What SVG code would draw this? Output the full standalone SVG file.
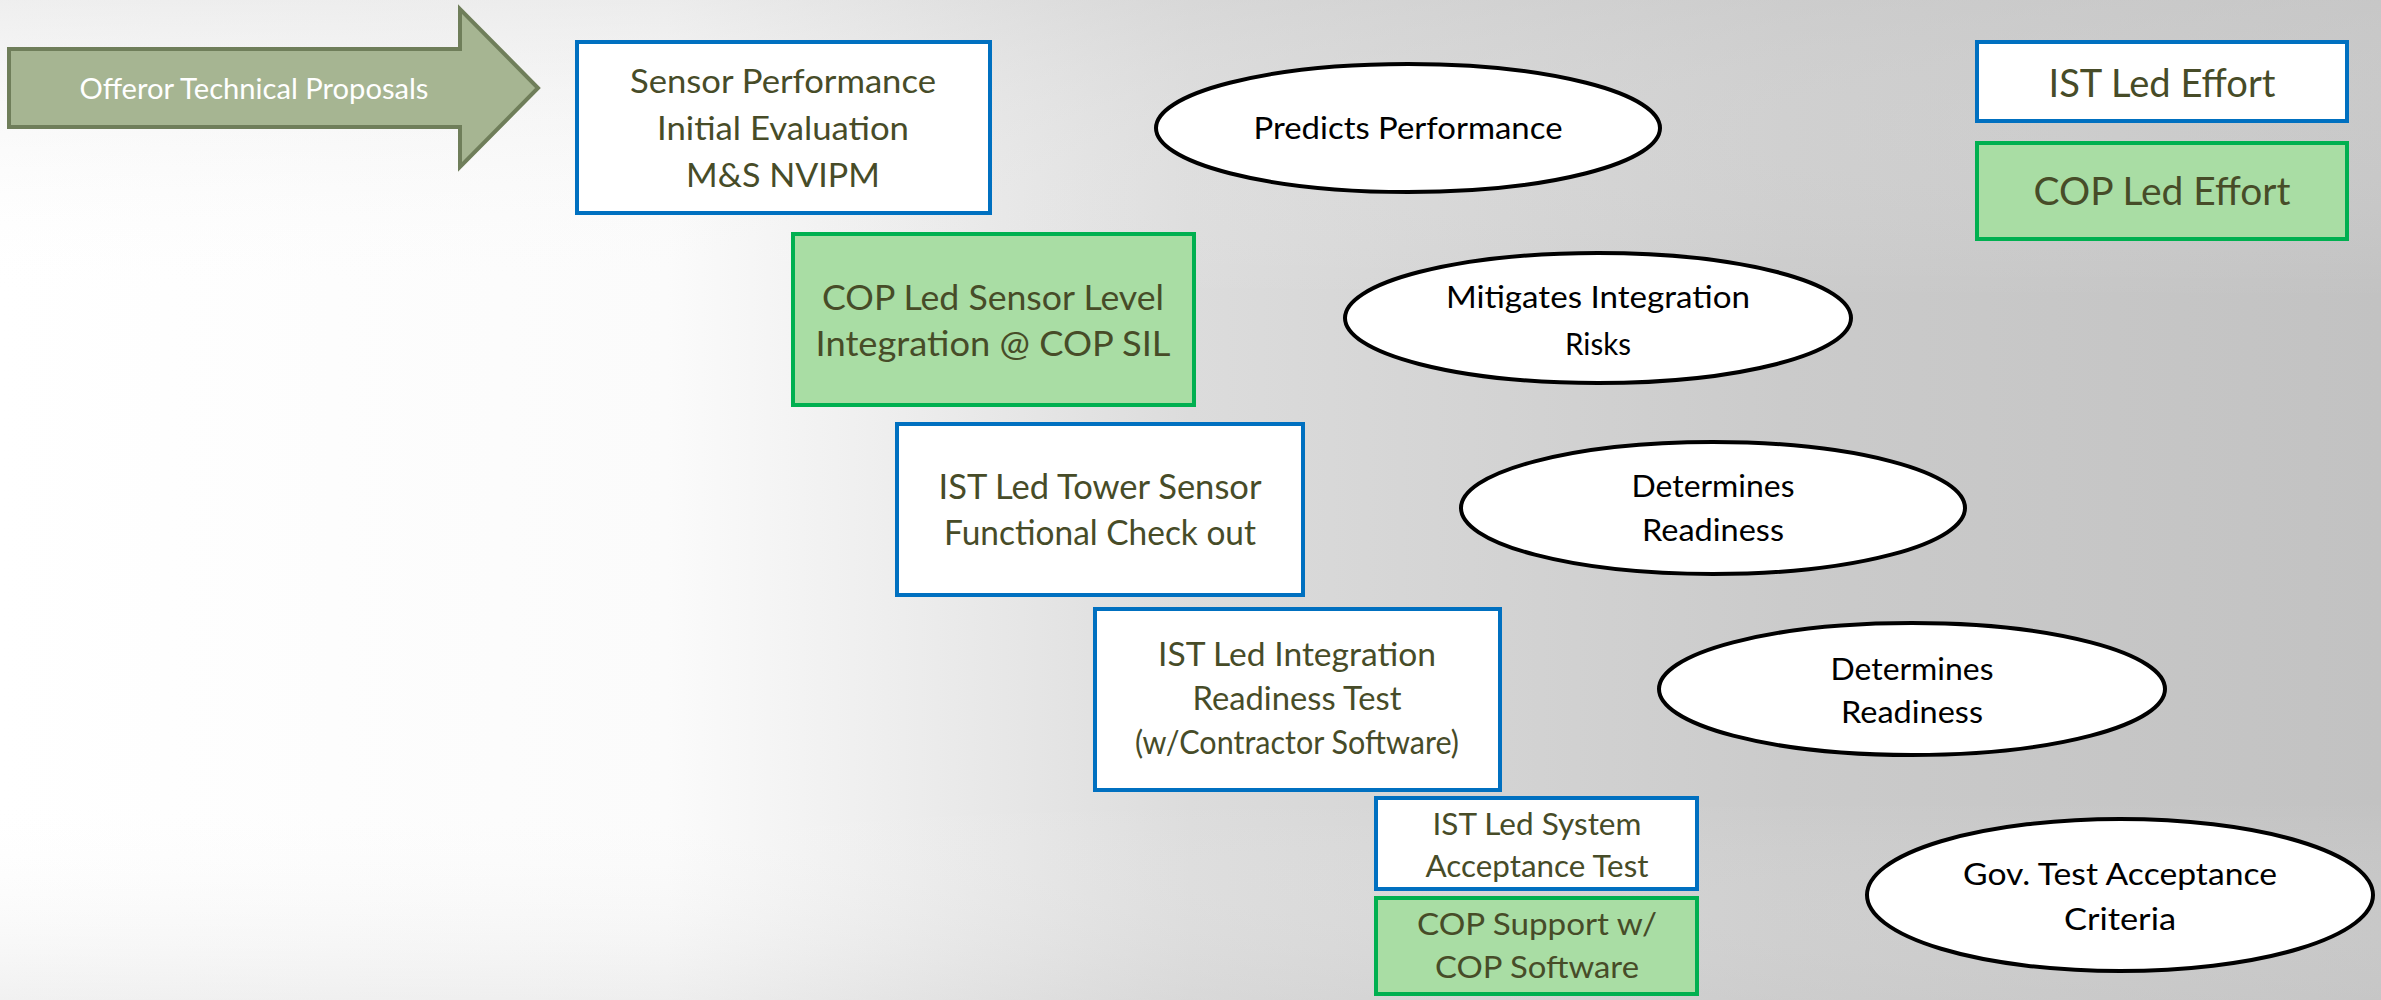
<svg xmlns="http://www.w3.org/2000/svg" width="2381" height="1000" viewBox="0 0 2381 1000">
  <defs>
    <linearGradient id="bg" x1="0" y1="0" x2="1" y2="0">
      <stop offset="0" stop-color="#ffffff"/>
      <stop offset="0.28" stop-color="#fbfbfb"/>
      <stop offset="0.5" stop-color="#dcdcdc"/>
      <stop offset="0.75" stop-color="#cbcbcb"/>
      <stop offset="1" stop-color="#c2c2c2"/>
    </linearGradient>
    <linearGradient id="bgv" x1="0" y1="0" x2="0" y2="1">
      <stop offset="0" stop-color="#d0d0d0" stop-opacity="0.35"/>
      <stop offset="0.3" stop-color="#ffffff" stop-opacity="0"/>
      <stop offset="0.8" stop-color="#ffffff" stop-opacity="0"/>
      <stop offset="1" stop-color="#d0d0d0" stop-opacity="0.3"/>
    </linearGradient>
    <style>
      .ist { fill: #ffffff; stroke: #0070c0; stroke-width: 4; }
      .cop { fill: #a9dda4; stroke: #00b050; stroke-width: 4; }
      .ell { fill: #ffffff; stroke: #000000; stroke-width: 4; }
      .t { font-family: Lato, "Liberation Sans", sans-serif; fill: #474c28; text-anchor: middle; }
      .e { font-family: Lato, "Liberation Sans", sans-serif; fill: #000000; text-anchor: middle; font-size: 30px; }
    </style>
  </defs>
  <rect x="0" y="0" width="2381" height="1000" fill="url(#bg)"/>
  <rect x="0" y="0" width="2381" height="1000" fill="url(#bgv)"/>

  <g id="connectors"></g>

  <g id="offeror">
    <polygon points="9,49 460,49 460,9 538,88 460,167 460,127 9,127" fill="#a6b592" stroke="#6f7e5a" stroke-width="4"/>
    <text x="254" y="99" font-size="29" font-family="Lato, 'Liberation Sans', sans-serif" fill="#ffffff" text-anchor="middle" textLength="349" lengthAdjust="spacingAndGlyphs">Offeror Technical Proposals</text>
  </g>

  <g id="box-sensor-performance">
    <rect class="ist" x="577" y="42" width="413" height="171"/>
    <text class="t" font-size="32" x="783" y="93" textLength="306" lengthAdjust="spacingAndGlyphs">Sensor Performance</text>
    <text class="t" font-size="32" x="783" y="140" textLength="252" lengthAdjust="spacingAndGlyphs">Initial Evaluation</text>
    <text class="t" font-size="32" x="783" y="187" textLength="194" lengthAdjust="spacingAndGlyphs">M&amp;S NVIPM</text>
  </g>

  <g id="box-cop-sensor-level">
    <rect class="cop" x="793" y="234" width="401" height="171"/>
    <text class="t" font-size="34" x="993" y="310" textLength="342" lengthAdjust="spacingAndGlyphs">COP Led Sensor Level</text>
    <text class="t" font-size="34" x="993" y="356" textLength="355" lengthAdjust="spacingAndGlyphs">Integration @ COP SIL</text>
  </g>

  <g id="box-tower-sensor">
    <rect class="ist" x="897" y="424" width="406" height="171"/>
    <text class="t" font-size="34" x="1100" y="499" textLength="323" lengthAdjust="spacingAndGlyphs">IST Led Tower Sensor</text>
    <text class="t" font-size="34" x="1100" y="545" textLength="312" lengthAdjust="spacingAndGlyphs">Functional Check out</text>
  </g>

  <g id="box-integration-readiness">
    <rect class="ist" x="1095" y="609" width="405" height="181"/>
    <text class="t" font-size="32" x="1297" y="666" textLength="278" lengthAdjust="spacingAndGlyphs">IST Led Integration</text>
    <text class="t" font-size="32" x="1297" y="710" textLength="209" lengthAdjust="spacingAndGlyphs">Readiness Test</text>
    <text class="t" font-size="32" x="1297" y="754" textLength="324" lengthAdjust="spacingAndGlyphs">(w/Contractor Software)</text>
  </g>

  <g id="box-system-acceptance">
    <rect class="ist" x="1376" y="798" width="321" height="91"/>
    <text class="t" font-size="30" x="1537" y="835" textLength="209" lengthAdjust="spacingAndGlyphs">IST Led System</text>
    <text class="t" font-size="30" x="1537" y="877" textLength="223" lengthAdjust="spacingAndGlyphs">Acceptance Test</text>
  </g>

  <g id="box-cop-support">
    <rect class="cop" x="1376" y="898" width="321" height="96"/>
    <text class="t" font-size="30" x="1537" y="935" textLength="240" lengthAdjust="spacingAndGlyphs">COP Support w/</text>
    <text class="t" font-size="30" x="1537" y="978" textLength="204" lengthAdjust="spacingAndGlyphs">COP Software</text>
  </g>

  <g id="ellipse-predicts">
    <ellipse class="ell" cx="1408" cy="128" rx="252" ry="64"/>
    <text class="e" x="1408" y="139" textLength="309" lengthAdjust="spacingAndGlyphs">Predicts Performance</text>
  </g>

  <g id="ellipse-mitigates">
    <ellipse class="ell" cx="1598" cy="318" rx="253" ry="65"/>
    <text class="e" x="1598" y="308" textLength="304" lengthAdjust="spacingAndGlyphs">Mitigates Integration</text>
    <text class="e" x="1598" y="355" textLength="66" lengthAdjust="spacingAndGlyphs">Risks</text>
  </g>

  <g id="ellipse-determines-1">
    <ellipse class="ell" cx="1713" cy="508" rx="252" ry="66"/>
    <text class="e" x="1713" y="497" textLength="163" lengthAdjust="spacingAndGlyphs">Determines</text>
    <text class="e" x="1713" y="541" textLength="142" lengthAdjust="spacingAndGlyphs">Readiness</text>
  </g>

  <g id="ellipse-determines-2">
    <ellipse class="ell" cx="1912" cy="689" rx="253" ry="66"/>
    <text class="e" x="1912" y="680" textLength="163" lengthAdjust="spacingAndGlyphs">Determines</text>
    <text class="e" x="1912" y="723" textLength="142" lengthAdjust="spacingAndGlyphs">Readiness</text>
  </g>

  <g id="ellipse-gov-test">
    <ellipse class="ell" cx="2120" cy="895" rx="253" ry="76"/>
    <text class="e" x="2120" y="885" textLength="314" lengthAdjust="spacingAndGlyphs">Gov. Test Acceptance</text>
    <text class="e" x="2120" y="930" textLength="112" lengthAdjust="spacingAndGlyphs">Criteria</text>
  </g>

  <g id="legend-ist">
    <rect class="ist" x="1977" y="42" width="370" height="79"/>
    <text class="t" font-size="38" x="2162" y="97" textLength="227" lengthAdjust="spacingAndGlyphs">IST Led Effort</text>
  </g>

  <g id="legend-cop">
    <rect class="cop" x="1977" y="143" width="370" height="96"/>
    <text class="t" font-size="38" x="2162" y="205" textLength="257" lengthAdjust="spacingAndGlyphs">COP Led Effort</text>
  </g>
</svg>
